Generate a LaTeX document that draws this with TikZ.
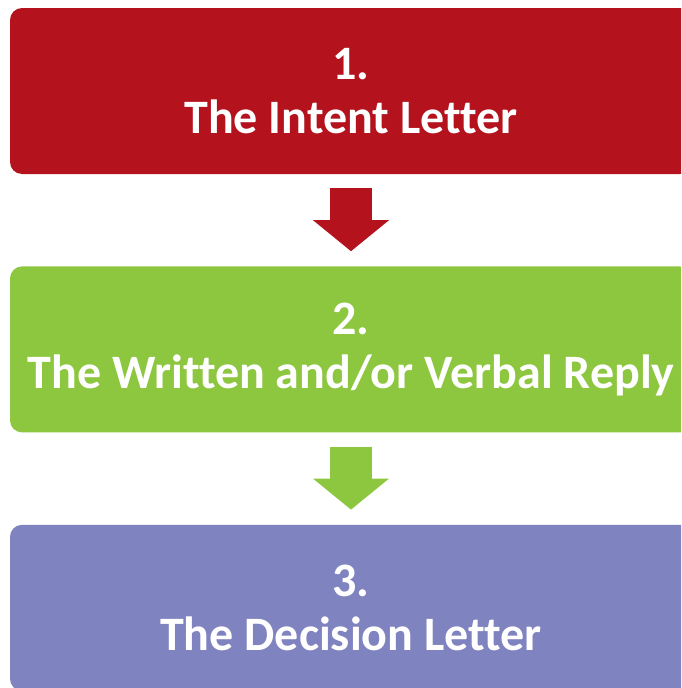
\documentclass[tikz,border=0pt]{standalone}
\usepackage{fontspec}
\setmainfont[Ligatures=NoCommon]{Carlito}
\usetikzlibrary{positioning,arrows.meta}
\definecolor{introred}{RGB}{180,19,30}
\definecolor{replygreen}{RGB}{141,198,63}
\definecolor{decisionblue}{RGB}{127,131,191}

\begin{document}
\begin{tikzpicture}[stagebox/.style={rectangle, rounded corners=12pt, minimum width=682pt, minimum height=166pt, inner sep=0pt, align=center, text=white, font=\bfseries\fontsize{48}{54}\selectfont},
                    stagearrow/.style={line width=42pt, shorten <=14pt, shorten >=15pt, -{Triangle[width=76pt,length=31pt,line width=0pt]}}]
    \useasboundingbox (0,0) rectangle (681pt,-688pt);
    \clip (0,0) rectangle (681pt,-688pt);

    %Nodes
    \node[stagebox, fill=introred]     (s1) at (351pt,-91pt) {1.\\The Intent Letter};
    \node[stagebox, fill=replygreen]   (s2) [below=92pt of s1] {2.\\The Written and/or Verbal Reply};
    \node[stagebox, fill=decisionblue] (s3) [below=92pt of s2] {3.\\The Decision Letter};

    %Arrows
    \draw[stagearrow, introred]   (s1) -- (s2);
    \draw[stagearrow, replygreen] (s2) -- (s3);
\end{tikzpicture}
\end{document}
